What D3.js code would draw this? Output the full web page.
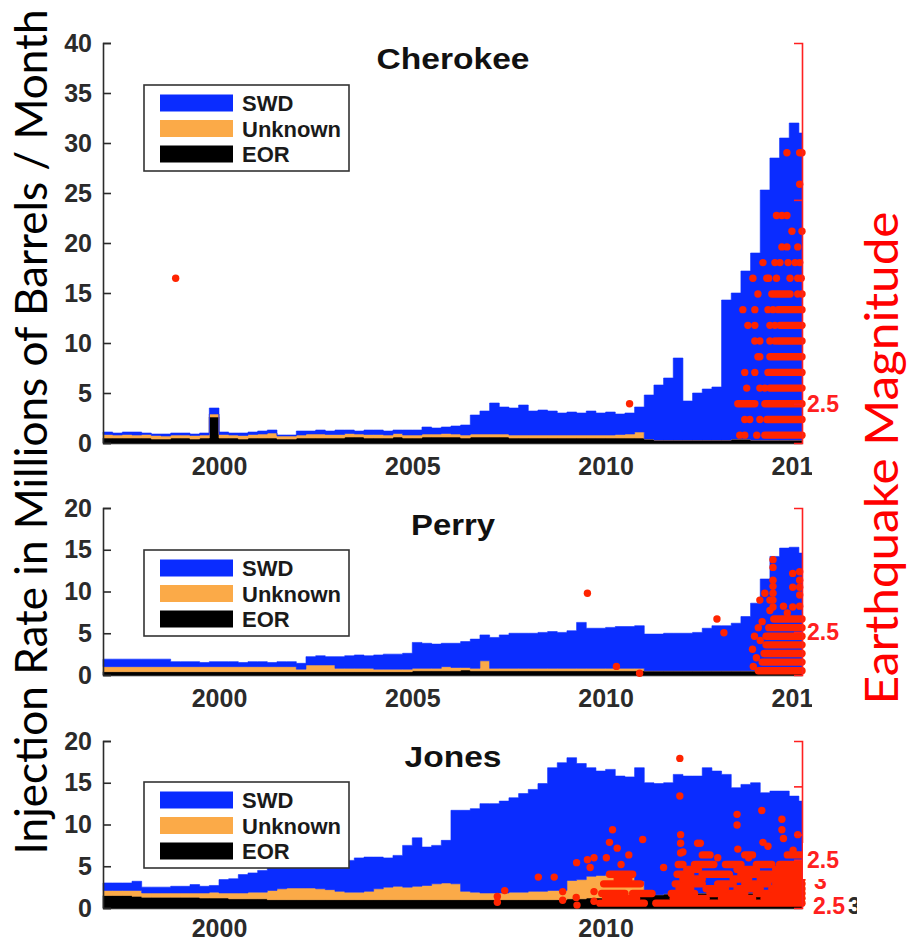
<!DOCTYPE html>
<html>
<head>
<meta charset="utf-8">
<script src="https://cdn.jsdelivr.net/npm/d3@7"></script>
<style>
  body { margin: 0; background: #fff; }
  svg { display: block; }
</style>
</head>
<body>
<svg id="chart" width="908" height="943"></svg>
<script>
// ---- data (million barrels / month, quarterly from 1997.0 to 2015.0) ----
var quarters = d3.range(73).map(function(i) { return 1997 + i / 4; });
var lastYear = 2015.08;
var seriesKeys = ["EOR", "Unknown", "SWD"];
var seriesColors = { SWD: "#0a2cff", Unknown: "#fbaa48", EOR: "#000000" };

var cherokeeEOR = [
  .5,.5,.5,.5, .5,.4,.4,.5, .5,.4,.5,2.6, .5,.5,.4,.5, .5,.5,.4,.4,
  .5,.5,.5,.5, .5,.6,.6,.5, .5,.5,.6,.5, .5,.6,.6,.6, .6,.5,.6,.6,
  .6,.6,.5,.5, .5,.5,.5,.5, .5,.5,.5,.5, .5,.5,.5,.5, .4,.3,.3,.3,
  .3,.3,.3,.3, .3,.4,.4,.3, .3,.3,.3,.3, .3];
var cherokeeUnknown = [
  .35,.3,.35,.3, .35,.35,.3,.3, .3,.35,.3,.3, .35,.3,.35,.35, .4,.5,.3,.3,
  .3,.4,.4,.35, .35,.35,.3,.35, .35,.3,.35,.3, .3,.3,.3,.35, .3,.3,.3,.3,
  .3,.3,.3,.3, .3,.3,.3,.3, .3,.3,.3,.3, .3,.35,.4,.6, 0,0,0,0,
  0,0,0,0, 0,0,0,0, 0,0,0,0, 0];
var cherokeeSWD = [
  .25,.2,.25,.3, .15,.15,.2,.2, .2,.15,.2,.6, .25,.2,.25,.25, .3,.3,.1,.1,
  .4,.3,.4,.35, .45,.35,.3,.45, .45,.4,.35,.5, .5,.7,.6,.65, .8,1.0,1.9,2.3,
  3.1,2.7,2.7,3.0, 2.4,2.5,2.4,2.2, 2.3,2.2,2.4,2.2, 2.3,2.05,2.1,2.5, 4.4,5.5,6.2,8.2,
  3.9,4.7,5.1,5.3, 14.0,14.6,16.8,18.7, 25.0,28.2,30.2,31.7, 30.7];

var perryEOR = [
  .4,.4,.4,.4, .4,.4,.4,.4, .4,.4,.4,.4, .4,.4,.4,.4, .4,.4,.4,.4,
  .4,.4,.4,.4, .4,.4,.4,.4, .4,.4,.4,.4, .5,.5,.5,.5, .5,.6,.5,.5,
  .5,.5,.5,.5, .5,.5,.5,.5, .5,.5,.5,.5, .5,.5,.5,.5, .5,.5,.5,.5,
  .5,.5,.5,.5, .5,.5,.5,.5, .5,.5,.5,.5, .5];
var perryUnknown = [
  .6,.6,.6,.6, .6,.6,.6,.6, .6,.6,.6,.6, .6,.6,.6,.6, .6,.6,.6,.6,
  .3,.8,.8,.8, .4,.4,.4,.4, .3,.3,.3,.3, .3,.3,.3,.5, .4,.3,.3,1.2,
  .3,.3,.3,.3, .3,.3,.3,.3, .3,.3,.3,.3, .3,.3,.3,.3, 0,0,0,0,
  0,0,0,0, 0,0,0,0, 0,0,0,0, 0];
var perrySWD = [
  .9,.9,.9,.9, .9,.9,.9,.6, .6,.6,.5,.6, .6,.6,.5,.6, .6,.5,.6,.6,
  .7,1.0,1.1,1.0, 1.4,1.5,1.6,1.5, 1.7,1.8,1.8,1.9, 3.1,3.0,2.9,2.8, 2.9,3.1,3.5,3.1,
  3.7,4.0,4.2,4.2, 4.2,4.3,4.4,4.3, 4.5,5.5,4.8,4.8, 4.9,5.0,5.0,5.1, 4.4,4.4,4.5,4.5,
  4.5,4.6,5.1,5.4, 5.4,5.7,6.5,8.1, 11.0,13.7,14.7,14.8, 14.1];

var jonesEOR = [
  1.5,1.5,1.5,1.4, 1.3,1.3,1.3,1.3, 1.3,1.3,1.2,1.2, 1.2,1.1,1.1,1.1, 1.1,1.0,1.0,1.0,
  1.0,1.0,1.0,1.0, 1.0,1.0,1.0,1.0, 1.0,1.0,1.0,1.0, 1.0,1.0,1.0,1.0, 1.0,1.0,1.0,1.0,
  1.0,1.0,1.0,1.0, 1.0,1.0,1.0,1.0, 1.1,1.1,1.2,1.2, 1.3,1.3,1.4,1.5, 1.6,1.6,1.7,1.7,
  1.8,1.8,1.8,1.8, 1.8,1.8,1.8,1.8, 1.8,1.8,1.8,1.8, 1.8];
var jonesUnknown = [
  .6,.6,.6,.7, .5,.5,.5,.5, .5,.5,.6,.7, .6,.7,.7,.8, .8,1.1,1.3,1.4,
  1.4,1.4,1.3,1.2, 1.0,.9,.9,1.0, 1.3,1.5,1.6,1.5, 1.6,1.7,1.9,2.0, 1.9,1.0,.9,.8,
  .8,.8,.9,.9, 1.0,1.0,1.1,1.1, 2.2,2.3,2.6,2.7, 2.7,2.9,2.6,1.7, 0,0,0,0,
  0,0,0,0, 0,0,0,0, 0,0,0,0, 0];
var jonesSWD = [
  .9,.9,.9,1.1, .7,.7,.7,.8, .8,1.0,.8,.8, 1.6,1.7,2.2,2.3, 2.6,2.7,2.6,2.6,
  3.5,3.2,3.2,3.2, 3.6,3.8,4.1,4.1, 3.8,3.5,3.7,5.0, 5.8,4.6,4.6,5.1, 8.8,9.7,10.0,10.7,
  10.7,11.0,11.3,11.8, 12.2,12.9,14.7,15.3, 14.7,13.9,13.0,12.5, 12.6,11.6,11.7,13.6, 13.4,13.3,13.3,14.3,
  14.0,14.0,15.0,14.6, 14.2,12.6,13.0,13.2, 12.0,12.2,12.2,11.6, 11.0];

// ---- earthquakes: single events (year, magnitude) and dense runs [magnitude, from, to] ----
var cherokeeQuakeYears = [1998.88,2010.62,2013.47,2013.60,2013.91,2013.60,2013.73,2013.99,2013.65,2013.99,
  2014.12,2013.60,2013.86,2013.94,2013.99,2013.86,2013.99,2014.25,2014.38,2013.68,2013.86,2014.25,2014.38,
  2013.55,2013.86,2014.20,2014.33,2013.94,2014.97,2015.08,2013.81,2014.17,2014.22,2014.42,2014.77,2014.97,
  2015.06,2014.07,2014.38,2014.51,2014.72,2014.90,2015.02,2014.56,2014.69,2014.97,2014.82,2015.08,2014.42,
  2014.56,2014.69,2015.02,2014.69,2015.02,2015.08];
var cherokeeQuakeMags = [3.3,2.5,2.3,2.3,2.3,2.4,2.4,2.4,2.6,2.6,
  2.6,2.7,2.7,2.8,2.8,2.9,2.9,2.9,2.9,3.0,3.0,3.0,3.0,
  3.1,3.1,3.1,3.1,3.2,3.2,3.2,3.3,3.3,3.3,3.3,3.3,3.3,
  3.3,3.4,3.4,3.4,3.4,3.4,3.4,3.5,3.5,3.5,3.6,3.6,3.7,
  3.7,3.7,3.9,4.1,4.1,4.1];
var cherokeeSwarms = [[2.3,2014.12,2015.08],[2.4,2014.17,2015.08],[2.5,2013.42,2013.86],[2.5,2014.12,2015.08],
  [2.6,2014.25,2015.08],[2.7,2014.20,2015.08],[2.8,2014.25,2015.08],[2.9,2014.46,2015.08],
  [3.0,2014.51,2015.08],[3.1,2014.46,2015.08],[3.2,2014.30,2014.77]];

var perryQuakeYears = [2009.53,2010.28,2010.88,2012.88,2013.06,2013.99,2014.12,2014.33,2014.33,2014.33,
  2014.33,2014.33,2014.33,2014.33,2014.25,2014.25,2014.84,2014.84,2014.84,2015.02,2015.02,2015.02,2015.02,
  2015.02,2013.80,2013.85,2013.90,2013.95,2013.82,2014.00,2014.05,2014.60,2014.70];
var perryQuakeMags = [2.95,2.10,2.02,2.65,2.49,2.87,2.95,3.34,3.25,3.10,
  3.03,2.95,2.87,2.79,2.87,2.75,3.18,3.02,2.79,3.20,3.10,3.02,2.93,
  2.80,2.30,2.45,2.20,2.55,2.10,2.40,2.62,2.80,2.72];
var perrySwarms = [[2.05,2013.95,2015.08],[2.15,2014.05,2015.08],[2.25,2014.10,2015.08],[2.35,2014.15,2015.08],
  [2.45,2014.15,2015.08],[2.55,2014.22,2015.08],[2.65,2014.35,2015.08]];

var jonesQuakeYears = [2007.20,2007.20,2007.39,2008.26,2008.67,2008.89,2008.89,2009.25,2009.53,2009.70,
  2010.02,2009.60,2009.24,2009.26,2009.70,2009.70,2010.18,2010.10,2010.30,2010.96,2010.40,2010.60,2011.92,
  2011.92,2011.94,2011.94,2011.94,2012.38,2012.45,2013.40,2013.40,2013.42,2014.04,2014.07,2014.20,2014.56,
  2014.56,2014.60,2014.85,2014.97,2012.00,2011.50,2012.90,2013.70];
var jonesQuakeMags = [2.06,2.12,2.18,2.32,2.32,2.17,2.08,2.47,2.50,2.52,
  2.52,2.42,2.11,2.03,2.17,2.07,2.81,2.68,2.62,2.71,2.45,2.55,3.55,
  3.16,2.76,2.67,2.57,2.67,2.67,2.97,2.86,2.61,3.01,2.68,2.64,2.92,
  2.81,2.72,2.60,2.76,2.58,2.42,2.52,2.52];
var jonesSwarms = [[2.05,2009.85,2011.0],[2.05,2011.3,2015.08],
  [2.10,2010.0,2010.8],[2.10,2011.75,2012.6],[2.10,2013.0,2013.8],[2.10,2014.1,2015.08],
  [2.15,2009.9,2010.5],[2.15,2010.7,2011.2],[2.15,2011.7,2012.3],[2.15,2012.7,2013.6],[2.15,2013.9,2015.08],
  [2.20,2011.9,2012.2],[2.20,2012.6,2013.1],[2.20,2013.4,2014.0],[2.20,2014.3,2015.08],
  [2.25,2009.95,2010.9],[2.25,2011.8,2012.5],[2.25,2012.9,2013.3],[2.25,2013.6,2014.2],[2.25,2014.4,2015.08],
  [2.30,2010.3,2010.6],[2.30,2012.0,2012.5],[2.30,2013.3,2013.7],[2.30,2014.0,2015.08],
  [2.35,2010.1,2010.7],[2.35,2011.85,2012.2],[2.35,2012.5,2013.2],[2.35,2013.5,2015.08],
  [2.40,2012.1,2012.4],[2.40,2013.4,2013.9],[2.40,2014.4,2015.08],
  [2.45,2011.88,2012.0],[2.45,2012.3,2012.8],[2.45,2013.1,2013.5],[2.45,2013.9,2014.3],[2.45,2014.5,2015.08],
  [2.55,2012.5,2012.7],[2.55,2013.6,2013.8],[2.55,2014.7,2015.08]];

// ---- layout ----
var panels = [
  { title: "Cherokee", titleLen: 153, titleY: 69, top: 43, bottom: 443, yMax: 40, yTicks: d3.range(0, 41, 5),
    xTicks: [2000, 2005, 2010, 2015], xPad: 14, legendTop: 85, magDomain: [2.25, 4.8], magTicks: [2.5, 3.8],
    eor: cherokeeEOR, unk: cherokeeUnknown, swd: cherokeeSWD,
    qYears: cherokeeQuakeYears, qMags: cherokeeQuakeMags, swarms: cherokeeSwarms },
  { title: "Perry", titleLen: 84, titleY: 535, top: 508, bottom: 675, yMax: 20, yTicks: d3.range(0, 21, 5),
    xTicks: [2000, 2005, 2010, 2015], xPad: 14, legendTop: 550, magDomain: [2.0, 3.94], magTicks: [2.5],
    eor: perryEOR, unk: perryUnknown, swd: perrySWD,
    qYears: perryQuakeYears, qMags: perryQuakeMags, swarms: perrySwarms },
  { title: "Jones", titleLen: 97, titleY: 767, top: 741, bottom: 908, yMax: 20, yTicks: d3.range(0, 21, 5),
    xTicks: [2000, 2010], xPad: 11, legendTop: 782, magDomain: [2.0, 3.73], magTicks: [2.5, 2.76, 3.26],
    eor: jonesEOR, unk: jonesUnknown, swd: jonesSWD,
    qYears: jonesQuakeYears, qMags: jonesQuakeMags, swarms: jonesSwarms }
];

var svg = d3.select("#chart");
var plotLeft = 103, plotRight = 802;
var axisColor = "#2b2b2b", red = "#ff2020", dotRed = "#ff2400", dotR = 3.7;
var tickFont = "'Liberation Sans', Arial, Helvetica, sans-serif";

var x = d3.scaleLinear().domain([1997, lastYear]).range([plotLeft, plotRight]);

// clip for the year labels (the last one is cut at the right edge)
svg.append("clipPath").attr("id", "xlabclip")
  .append("rect").attr("x", 0).attr("y", 0).attr("width", 812).attr("height", 943);
// clip for the pasted label block on the Jones magnitude axis (local coords of that axis)
svg.append("clipPath").attr("id", "magclip")
  .append("rect").attr("x", -10).attr("y", 880).attr("width", 65).attr("height", 60);

var stack = d3.stack().keys(seriesKeys);

panels.forEach(function(p) {
  var g = svg.append("g");
  var y = d3.scaleLinear().domain([0, p.yMax]).range([p.bottom, p.top]);
  var mag = d3.scaleLinear().domain(p.magDomain).range([p.bottom, p.top]);

  // stacked injection data
  var rows = quarters.map(function(t, i) {
    return { t: t, EOR: p.eor[i], Unknown: p.unk[i], SWD: p.swd[i] };
  });
  var last = rows[rows.length - 1];
  rows.push({ t: lastYear, EOR: last.EOR, Unknown: last.Unknown, SWD: last.SWD });

  var area = d3.area()
    .curve(d3.curveStepAfter)
    .x(function(d) { return x(d.data.t); })
    .y0(function(d) { return y(d[0]); })
    .y1(function(d) { return y(d[1]); });

  g.selectAll("path.layer")
    .data(stack(rows))
    .enter().append("path")
    .attr("class", "layer")
    .attr("fill", function(d) { return seriesColors[d.key]; })
    .attr("stroke", function(d) { return seriesColors[d.key]; })
    .attr("stroke-width", 0.6)
    .attr("d", area);

  // left axis
  var leftAxis = d3.axisLeft(y).tickValues(p.yTicks).tickSize(-8).tickSizeOuter(-8).tickPadding(11);
  var la = g.append("g").attr("transform", "translate(" + plotLeft + ",0)").call(leftAxis);
  la.selectAll("path, line").attr("stroke", axisColor).attr("stroke-width", 1.6);
  la.selectAll("text").attr("fill", axisColor).style("font-family", tickFont)
    .style("font-size", "25px").style("font-weight", "bold");

  // bottom axis
  var bottomAxis = d3.axisBottom(x).tickValues(p.xTicks).tickFormat(d3.format("d"))
    .tickSize(-8).tickSizeOuter(0).tickPadding(p.xPad);
  var ba = g.append("g").attr("transform", "translate(0," + p.bottom + ")")
    .attr("clip-path", "url(#xlabclip)").call(bottomAxis);
  ba.selectAll("path").attr("stroke", axisColor).attr("stroke-width", 1.6);
  ba.selectAll("line").attr("stroke", "none");
  ba.selectAll("text").attr("fill", axisColor).style("font-family", tickFont)
    .style("font-size", "25px").style("font-weight", "bold");

  // earthquakes
  var q = g.append("g");
  q.selectAll("line.swarm")
    .data(p.swarms)
    .enter().append("line")
    .attr("class", "swarm")
    .attr("x1", function(d) { return x(d[1]); })
    .attr("x2", function(d) { return x(d[2]); })
    .attr("y1", function(d) { return mag(d[0]); })
    .attr("y2", function(d) { return mag(d[0]); })
    .attr("stroke", dotRed)
    .attr("stroke-width", dotR * 2)
    .attr("stroke-linecap", "round");
  q.selectAll("circle")
    .data(p.qYears)
    .enter().append("circle")
    .attr("cx", function(d) { return x(d); })
    .attr("cy", function(d, i) { return mag(p.qMags[i]); })
    .attr("r", dotR)
    .attr("fill", dotRed);

  // right (magnitude) axis
  var rightAxis = d3.axisRight(mag).tickValues(p.magTicks)
    .tickFormat(function(d) { return d === 2.5 ? "2.5" : ""; })
    .tickSize(-8).tickSizeOuter(-8).tickPadding(5);
  var ra = g.append("g").attr("transform", "translate(" + plotRight + ",0)").call(rightAxis);
  ra.selectAll("path, line").attr("stroke", red).attr("stroke-width", 1.6);
  ra.selectAll("text").attr("fill", red).style("font-family", tickFont)
    .style("font-size", "23px").style("font-weight", "bold");

  if (p.title === "Jones") {
    // overlapping pasted label block at the lower right
    ra.append("text").attr("x", 12).attr("y", 889).attr("fill", red)
      .style("font-family", tickFont).style("font-size", "23px").style("font-weight", "bold").text("3");
    ra.append("rect").attr("x", 1).attr("y", 843).attr("width", 56).attr("height", 36).attr("fill", "#fff");
    ra.selectAll(".tick").raise();
    var extra = ra.append("g").attr("clip-path", "url(#magclip)");
    extra.append("text").attr("x", 11).attr("y", 914).attr("fill", red)
      .style("font-family", tickFont).style("font-size", "23px").style("font-weight", "bold").text("2.5");
    extra.append("text").attr("x", 46).attr("y", 914).attr("fill", axisColor)
      .style("font-family", tickFont).style("font-size", "23px").style("font-weight", "bold").text("3");
  }

  // title
  g.append("text")
    .attr("x", 453).attr("y", p.titleY)
    .attr("text-anchor", "middle")
    .attr("textLength", p.titleLen).attr("lengthAdjust", "spacingAndGlyphs")
    .attr("fill", "#111")
    .style("font-family", tickFont).style("font-size", "29px").style("font-weight", "bold")
    .text(p.title);

  // legend
  var lg = g.append("g").attr("transform", "translate(144," + p.legendTop + ")");
  lg.append("rect").attr("width", 205).attr("height", 86)
    .attr("fill", "#fff").attr("stroke", "#333").attr("stroke-width", 1.6);
  ["SWD", "Unknown", "EOR"].forEach(function(k, i) {
    var cy = 18 + i * 25.5;
    lg.append("rect").attr("x", 16).attr("y", cy - 8.5).attr("width", 73).attr("height", 17)
      .attr("fill", seriesColors[k]);
    lg.append("text").attr("x", 98).attr("y", cy + 8).attr("fill", "#1a1a1a")
      .style("font-family", tickFont).style("font-size", "22px").style("font-weight", "bold")
      .text(k);
  });
});

// axis titles
svg.append("text")
  .attr("transform", "translate(47,432) rotate(-90)")
  .attr("text-anchor", "middle")
  .attr("textLength", 845).attr("lengthAdjust", "spacingAndGlyphs")
  .attr("fill", "#000")
  .style("font-family", "Lato, 'Open Sans', sans-serif").style("font-size", "44px")
  .text("Injection Rate in Millions of Barrels / Month");

svg.append("text")
  .attr("transform", "translate(898,458) rotate(-90)")
  .attr("text-anchor", "middle")
  .attr("textLength", 493).attr("lengthAdjust", "spacingAndGlyphs")
  .attr("fill", "#ff0000")
  .style("font-family", "Lato, 'Open Sans', sans-serif").style("font-size", "46px")
  .text("Earthquake Magnitude");
</script>
</body>
</html>
